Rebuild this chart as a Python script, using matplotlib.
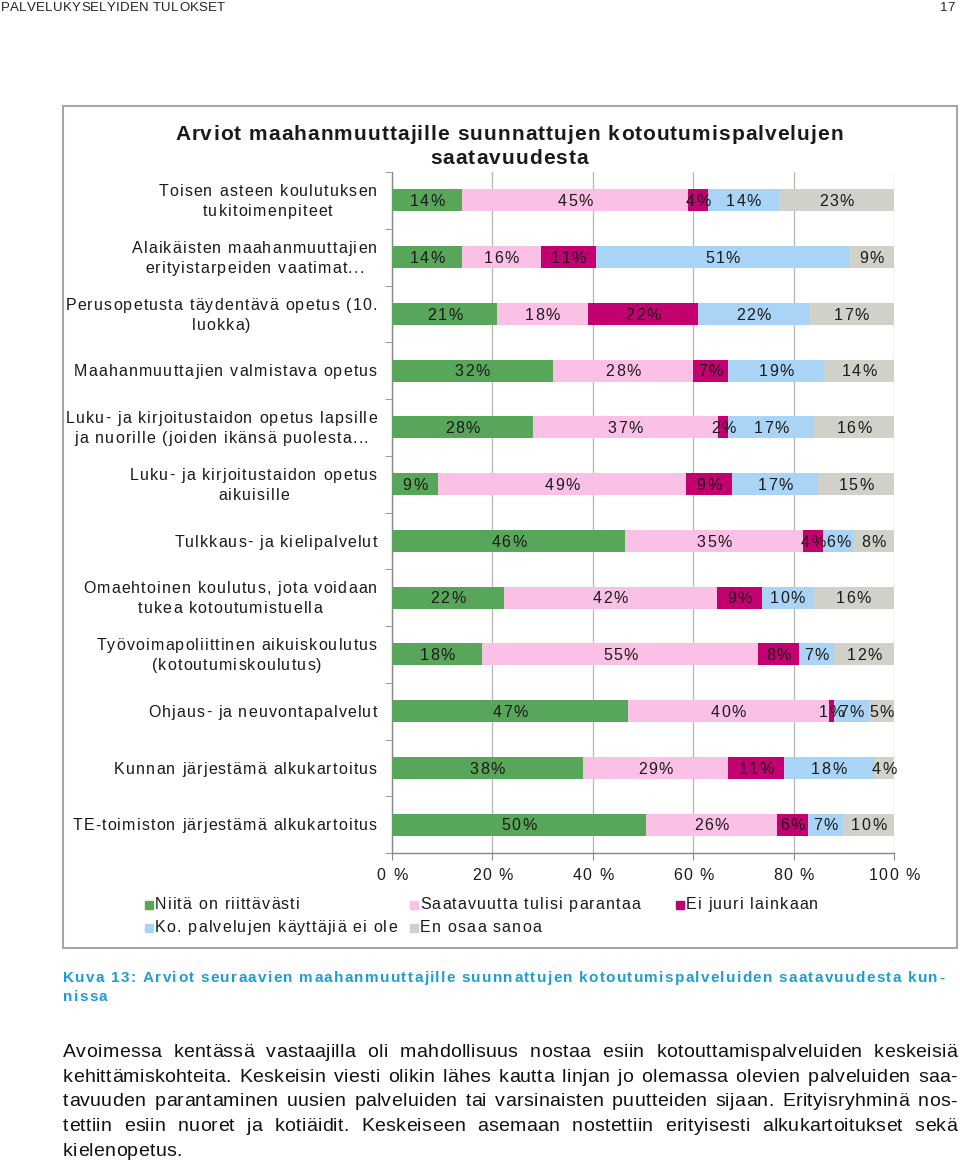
import numpy as np
import matplotlib
matplotlib.use("Agg")
import matplotlib.pyplot as plt
from matplotlib.patches import Rectangle
from matplotlib.font_manager import FontProperties, findfont
from matplotlib.ft2font import FT2Font

FAMS = ['Liberation Sans Narrow', 'Liberation Sans']
plt.rcParams['font.family'] = FAMS + ['DejaVu Sans']

# kategoriat (ylhäältä alas)
categories = [
    "Toisen asteen koulutuksen\ntukitoimenpiteet",
    "Alaikäisten maahanmuuttajien\nerityistarpeiden vaatimat...",
    "Perusopetusta täydentävä opetus (10.\nluokka)",
    "Maahanmuuttajien valmistava opetus",
    "Luku- ja kirjoitustaidon opetus lapsille\nja nuorille (joiden ikänsä puolesta...",
    "Luku- ja kirjoitustaidon opetus\naikuisille",
    "Tulkkaus- ja kielipalvelut",
    "Omaehtoinen koulutus, jota voidaan\ntukea kotoutumistuella",
    "Työvoimapoliittinen aikuiskoulutus\n(kotoutumiskoulutus)",
    "Ohjaus- ja neuvontapalvelut",
    "Kunnan järjestämä alkukartoitus",
    "TE-toimiston järjestämä alkukartoitus",
]
series_names = ["Niitä on riittävästi", "Saatavuutta tulisi parantaa",
                "Ei juuri lainkaan", "Ko. palvelujen käyttäjiä ei ole",
                "En osaa sanoa"]
riittavasti = [14, 14, 21, 32, 28, 9, 46, 22, 18, 47, 38, 50]
parantaa = [45, 16, 18, 28, 37, 49, 35, 42, 55, 40, 29, 26]
ei_juuri = [4, 11, 22, 7, 2, 9, 4, 9, 8, 1, 11, 6]
ei_kayttajia = [14, 51, 22, 19, 17, 17, 6, 10, 7, 7, 18, 7]
en_osaa = [23, 9, 17, 14, 16, 15, 8, 16, 12, 5, 4, 10]
colors = ['#58A65A', '#FBC0E6', '#C2006F', '#A9D4F5', '#D1D0C9']
xticks = [0, 20, 40, 60, 80, 100]
xticklabels = ['0 %', '20 %', '40 %', '60 %', '80 %', '100 %']

header = "PALVELUKYSELYIDEN TULOKSET"
page_no = "17"
title = ["Arviot maahanmuuttajille suunnattujen kotoutumispalvelujen", "saatavuudesta"]
caption = ["Kuva 13: Arviot seuraavien maahanmuuttajille suunnattujen kotoutumispalveluiden saatavuudesta kun-",
           "nissa"]
paragraph = [
    "Avoimessa kentässä vastaajilla oli mahdollisuus nostaa esiin kotouttamispalveluiden keskeisiä",
    "kehittämiskohteita. Keskeisin viesti olikin lähes kautta linjan jo olemassa olevien palveluiden saa-",
    "tavuuden parantaminen uusien palveluiden tai varsinaisten puutteiden sijaan. Erityisryhminä nos-",
    "tettiin esiin nuoret ja kotiäidit. Keskeiseen asemaan nostettiin erityisesti alkukartoitukset sekä",
    "kielenopetus.",
]

W, H = 960, 1160
fig = plt.figure(figsize=(W / 100, H / 100), dpi=100)
TXT = '#1a1a1a'


def fx(px):
    return px / W


def fy(py):
    return 1 - py / H


# harvennettu teksti: kirjain kerrallaan, jotta välistys vastaa alkuperäistä
_fonts = {}


def font_path(weight):
    return findfont(FontProperties(family=FAMS, weight=weight))


def advances(s, size, weight):
    key = (size, weight)
    if key not in _fonts:
        f = FT2Font(font_path(weight))
        f.set_size(size, 100)
        _fonts[key] = f
    f = _fonts[key]
    return [f.load_char(ord(c)).linearHoriAdvance / 65536 for c in s]


def calib(ref, target, size, weight='normal'):
    return (target - sum(advances(ref, size, weight))) / (len(ref) - 1)


def text_width(s, size, track, weight='normal'):
    return sum(advances(s, size, weight)) + track * (len(s) - 1)


def tracked(x, base, s, size, track, weight='normal', color=TXT, ha='left', word_extra=0.0):
    fp = FontProperties(fname=font_path(weight), size=size)
    adv = advances(s, size, weight)
    total = sum(adv) + track * (len(s) - 1)
    if ha == 'right':
        xp = x - total
    elif ha == 'center':
        xp = x - total / 2
    else:
        xp = x
    for c, a in zip(s, adv):
        if c != ' ':
            fig.text(fx(xp), fy(base), c, fontproperties=fp, color=color,
                     ha='left', va='baseline')
        xp += a + track + (word_extra if c == ' ' else 0)
    return total


# sivun ylätunniste
tr = calib(header, 224, 9.5)
tracked(1, 11, header, 9.5, tr, color='#222222')
tracked(955, 11, page_no, 9.5, tr, color='#222222', ha='right')

# kaavion kehys
fig.patches.append(Rectangle((fx(63), fy(948)), fx(957) - fx(63), fy(106) - fy(948),
                             transform=fig.transFigure, fill=False,
                             edgecolor='#a6a6a6', lw=1.5))

tr = calib(title[0], 668, 15, 'bold')
tracked(509, 140, title[0], 15, tr, 'bold', ha='center')
tracked(509, 164, title[1], 15, tr, 'bold', ha='center')

ax = fig.add_axes([fx(392), fy(853), fx(894) - fx(392), fy(172) - fy(853)])

data = np.array([riittavasti, parantaa, ei_juuri, ei_kayttajia, en_osaa], dtype=float)
totals = data.sum(axis=0)
shares = data / totals * 100
y = np.arange(len(categories))
ax.set_xlim(0, 100)
ax.set_ylim(len(categories) - 0.5, -0.5)


def to_px(xv, yv):
    d = ax.transData.transform((xv, yv))
    return d[0], H - d[1]


SZ = 11.5
left = np.zeros(len(categories))
tr_pct = calib("45%", 35, SZ)
for k in range(len(series_names)):
    ax.barh(y, shares[k], left=left, height=0.39, color=colors[k],
            label=series_names[k], zorder=3)
    for i in range(len(categories)):
        px, py = to_px(left[i] + shares[k][i] / 2, y[i])
        tracked(px, py + 5.8, f"{int(data[k][i])}%", SZ, tr_pct, ha='center')
    left += shares[k]

ax.set_xticks(xticks)
ax.set_xticklabels([])
ax.set_yticks(y)
ax.set_yticklabels([])
ax.set_yticks(np.arange(-0.5, len(categories), 1), minor=True)
ax.tick_params(axis='y', which='major', length=0)
ax.tick_params(axis='y', which='minor', length=5, color='#888888', direction='out')
ax.tick_params(axis='x', length=5, color='#888888', direction='out')
ax.xaxis.grid(True, color='#b5b5b5', lw=0.9, zorder=0)
ax.set_axisbelow(True)
for s in ['top', 'right']:
    ax.spines[s].set_visible(False)
for s in ['left', 'bottom']:
    ax.spines[s].set_color('#888888')
    ax.spines[s].set_linewidth(1.0)

# x-akselin nimiöt
tr = calib("100 %", 51, SZ)
for xv, lab in zip(xticks, xticklabels):
    px, _ = to_px(xv, 0)
    tracked(px, 880, lab, SZ, tr, ha='center')

# kategorianimiöt: oikealle tasattu lohko, rivit keskitettyinä
tr_cat = calib("Maahanmuuttajien valmistava opetus", 303, SZ)
for i, cat in enumerate(categories):
    _, py = to_px(0, y[i])
    lines = cat.split("\n")
    widths = [text_width(l, SZ, tr_cat) for l in lines]
    block = max(widths)
    for j, l in enumerate(lines):
        base = py + 5.8 + (j - (len(lines) - 1) / 2) * 20
        tracked(377 - block / 2, base, l, SZ, tr_cat, ha='center')

# selite
tr_leg = calib(series_names[3], 242, SZ)
leg_pos = [(145, 909), (410, 909), (676, 909), (145, 932), (410, 932)]
for k, (lx, ly) in enumerate(leg_pos):
    fig.patches.append(Rectangle((fx(lx), fy(ly)), fx(8), 8 / H,
                                 transform=fig.transFigure, color=colors[k]))
    tracked(lx + 10, ly, series_names[k], SZ, tr_leg)

# kuvateksti
tr = calib(caption[0], 881, 11, 'bold')
tracked(63, 982, caption[0], 11, tr, 'bold', color='#1e9dcf')
tracked(63, 1001, caption[1], 11, tr, 'bold', color='#1e9dcf')

# tasattu leipäteksti
PS = 14
tr = calib("kielenopetus.", 119, PS)
x0, x1 = 63, 957
for k, line in enumerate(paragraph):
    base = 1057 + k * 24.7
    extra = 0.0
    if k < len(paragraph) - 1:
        extra = (x1 - x0 - text_width(line, PS, tr)) / line.count(' ')
    tracked(x0, base, line, PS, tr, color='#111111', word_extra=extra)

fig.savefig("out.png", dpi=100)
